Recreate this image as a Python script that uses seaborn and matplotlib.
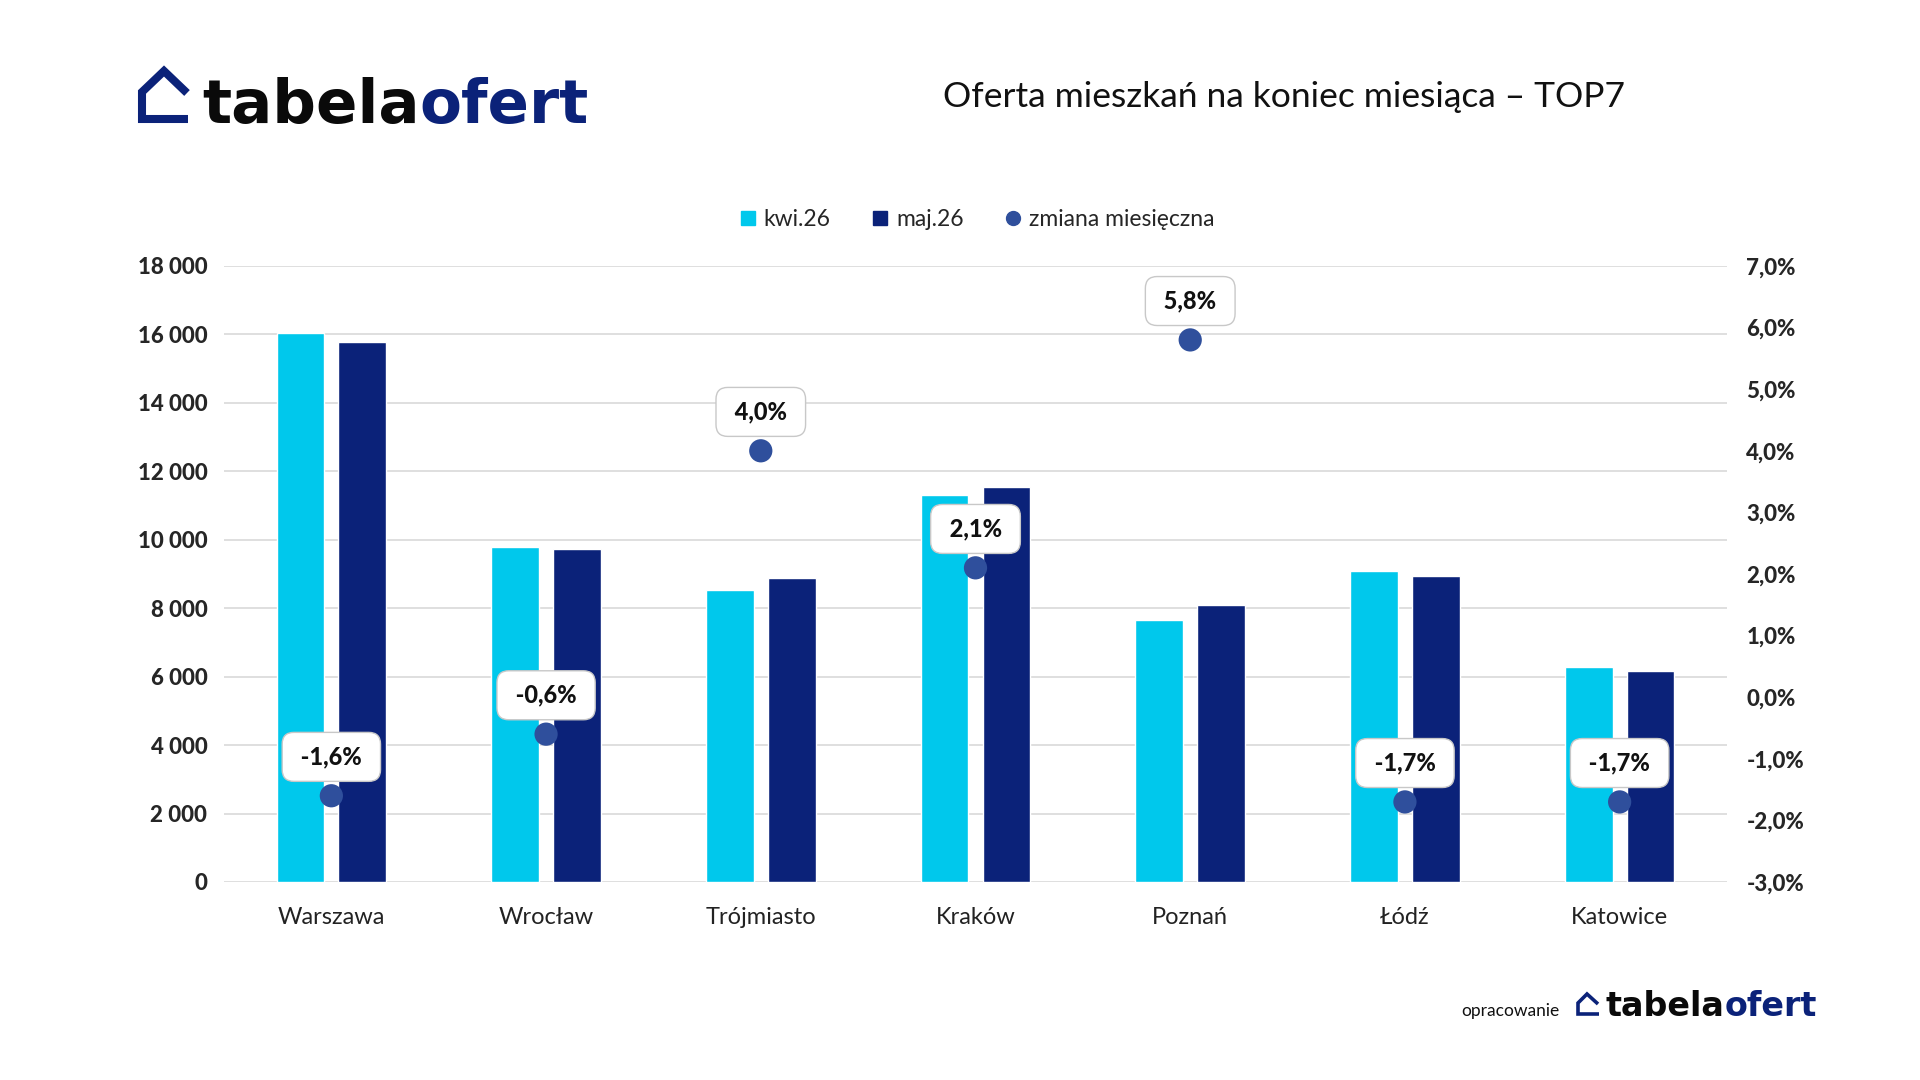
import numpy as np
import pandas as pd
import seaborn as sns
import matplotlib.pyplot as plt
from matplotlib.lines import Line2D
from matplotlib.ticker import FuncFormatter

# dane
miasta = ['Warszawa', 'Wrocław', 'Trójmiasto', 'Kraków', 'Poznań', 'Łódź', 'Katowice']
kwi26 = [16050, 9800, 8530, 11300, 7650, 9100, 6280]
maj26 = [15790, 9740, 8870, 11540, 8090, 8950, 6175]
zmiana = [-1.6, -0.6, 4.0, 2.1, 5.8, -1.7, -1.7]
miesiace = ['kwi.26', 'maj.26']

CYAN = '#00C8EC'
NAVY = '#0B2279'
DOT = '#2F4F9C'
W, H = 1920, 1080

sns.set_theme(style='white')
plt.rcParams['font.family'] = ['Lato', 'DejaVu Sans']

df = pd.DataFrame({'miasto': miasta * 2,
                   'miesiac': [miesiace[0]] * 7 + [miesiace[1]] * 7,
                   'oferta': kwi26 + maj26})

fig = plt.figure(figsize=(19.2, 10.8), dpi=100)
ax = fig.add_axes([224 / W, 1 - 882 / H, (1727 - 224) / W, (882 - 266) / H])

sns.barplot(data=df, x='miasto', y='oferta', hue='miesiac', palette=[CYAN, NAVY],
            width=0.577, gap=0.23, saturation=1, errorbar=None, legend=False, ax=ax)
ax.set_xlim(-0.5, 6.5)
ax.set_ylim(0, 18000)
ax.set_yticks(range(0, 18001, 2000))
ax.yaxis.set_major_formatter(FuncFormatter(lambda v, p: f'{int(v):,}'.replace(',', ' ')))
ax.grid(axis='y', color='#d9d9d9', lw=1.2)
ax.set_axisbelow(True)
ax.set_xlabel('')
ax.set_ylabel('')
ax.tick_params(axis='both', length=0)
ax.tick_params(axis='y', pad=12, labelsize=16)
ax.tick_params(axis='x', pad=18, labelsize=17, labelcolor='#222222')
for lab in ax.get_yticklabels():
    lab.set_fontweight('black')
sns.despine(ax=ax, left=True, bottom=True)

ax2 = ax.twinx()
sns.scatterplot(x=list(range(7)), y=zmiana, ax=ax2, s=280, color=DOT,
                edgecolor='none', zorder=5, legend=False)
ax2.set_xlim(-0.5, 6.5)
ax2.set_ylim(-3, 7)
ax2.set_yticks(range(-3, 8))
ax2.yaxis.set_major_formatter(FuncFormatter(lambda v, p: f'{v:.1f}%'.replace('.', ',')))
ax2.tick_params(axis='y', length=0, pad=14, labelsize=16)
for lab in ax2.get_yticklabels():
    lab.set_fontweight('black')
ax2.grid(False)
for s in ax2.spines.values():
    s.set_visible(False)

for i, z in enumerate(zmiana):
    ax2.annotate(' ' + f'{z:.1f}%'.replace('.', ',') + ' ', (i, z), xytext=(0, 28),
                 textcoords='offset points', ha='center', va='center',
                 fontsize=17, fontweight='black', color='#111111', zorder=6,
                 bbox=dict(boxstyle='round,pad=0.55,rounding_size=0.5', fc='white',
                           ec='#c8c8c8', lw=1))

# legenda
handles = [Line2D([], [], marker='s', color=CYAN, ls='', markersize=10),
           Line2D([], [], marker='s', color=NAVY, ls='', markersize=10),
           Line2D([], [], marker='o', color=DOT, ls='', markersize=10)]
fig.legend(handles, miesiace + ['zmiana miesięczna'], loc='center',
           bbox_to_anchor=(977 / W, 1 - 220 / H), ncol=3, frameon=False,
           fontsize=16.5, handlelength=0.7, handletextpad=0.35, columnspacing=1.8)

# tytuł
fig.text(1284 / W, 1 - 97 / H, 'Oferta mieszkań na koniec miesiąca – TOP7',
         ha='center', va='center', fontsize=25.5, color='#111111')


def logo(x0, base, size, house, lw):
    xs = [p[0] / W for p in house]
    ys = [1 - p[1] / H for p in house]
    fig.add_artist(Line2D(xs, ys, color=NAVY, lw=lw, solid_joinstyle='miter',
                          solid_capstyle='butt', transform=fig.transFigure))
    t1 = fig.text(x0 / W, 1 - base / H, 'tabela', fontsize=size, fontweight='bold',
                  family='DejaVu Sans', color='#0a0a0a', va='baseline', ha='left')
    fig.canvas.draw()
    bb = t1.get_window_extent()
    fig.text(bb.x1 / W, 1 - base / H, 'ofert', fontsize=size, fontweight='bold',
             family='DejaVu Sans', color=NAVY, va='baseline', ha='left')


logo(202, 123, 44, [(187, 93), (164, 71), (142, 92), (142, 119), (188, 119)], 5.8)
fig.text(1461 / W, 1 - 1011 / H, 'opracowanie', fontsize=12.5, color='#111111',
         va='center', ha='left')
logo(1606, 1016, 24, [(1598, 1004), (1587, 994), (1578, 1003), (1578, 1014), (1599, 1014)], 2.6)

fig.savefig('out.png', dpi=100, facecolor='white')
